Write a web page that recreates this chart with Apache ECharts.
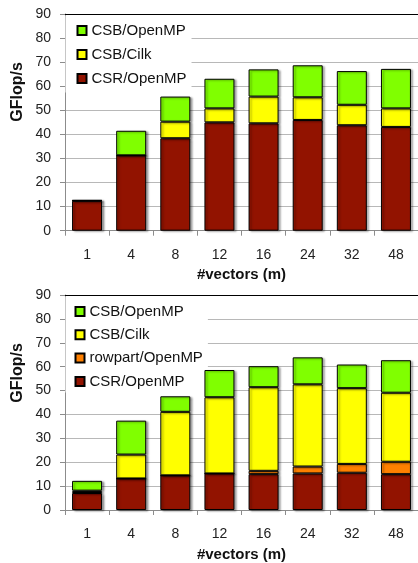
<!DOCTYPE html>
<html><head><meta charset="utf-8">
<script src="https://cdn.jsdelivr.net/npm/echarts@6/dist/echarts.min.js"></script>
<style>html,body{margin:0;padding:0;background:#fff}#c{width:418px;height:563px}</style>
</head><body><div id="c"></div>
<script>
const categories = ['1','4','8','12','16','24','32','48'];
const yTicks = [0,10,20,30,40,50,60,70,80,90];
// top chart: performance level of each method (GFlop/s)
const topCSR_OpenMP = [12.4, 31.3, 38.4, 45.0, 44.6, 46.0, 43.8, 43.1];
const topCSB_Cilk   = [12.5, 31.3, 45.3, 50.8, 55.7, 55.4, 52.3, 50.8];
const topCSB_OpenMP = [12.7, 41.5, 55.7, 63.1, 67.0, 68.7, 66.3, 67.2];
// bottom chart
const botCSR_OpenMP     = [7.1, 13.2, 14.5, 15.3, 15.0, 15.3, 15.6, 15.0];
const botRowpart_OpenMP = [7.6, 13.2, 14.5, 15.3, 16.4, 18.2, 19.3, 20.2];
const botCSB_Cilk       = [8.1, 23.2, 41.1, 47.2, 51.4, 52.6, 51.0, 49.1];
const botCSB_OpenMP     = [12.2, 37.4, 47.6, 58.6, 60.2, 63.9, 60.9, 62.7];

const colors = {csr:'#921300', row:'#FF8000', cilk:'#FFFF00', omp:'#80FF00'};
const diff = (a,b)=>a.map((v,i)=>+(v-(b?b[i]:0)).toFixed(2));

const font = 'Liberation Sans, Arial, sans-serif';
const grids = [
  {left:65, top:14, width:354, height:216.7},
  {left:65, top:295, width:354, height:215.7}
];
function xAx(i){
  return [{
    type:'category', gridIndex:i, data:categories,
    axisLine:{lineStyle:{color:'#8c8c8c'}},
    axisTick:{show:true, alignWithLabel:false, length:5, lineStyle:{color:'#8c8c8c'}},
    axisLabel:{color:'#222', fontSize:14, fontFamily:font, margin:17},
    name:'#vectors (m)', nameLocation:'middle', nameGap:37,
    nameTextStyle:{color:'#111', fontSize:15, fontWeight:'bold', fontFamily:font}
  },{
    type:'category', gridIndex:i, data:categories, position:'top',
    axisLine:{show:true, lineStyle:{color:'#000', width:1}},
    axisTick:{show:false}, axisLabel:{show:false}
  }];
}
function yAx(i){
  return {
    type:'value', gridIndex:i, min:0, max:90, interval:10,
    axisLine:{show:true, lineStyle:{color:'#8c8c8c'}},
    axisTick:{show:true, length:5, lineStyle:{color:'#8c8c8c'}},
    axisLabel:{color:'#222', fontSize:14, fontFamily:font, margin:14},
    splitLine:{lineStyle:{color:'#b8b8b8', width:1}}
  };
}
function ser(name, data, color, gi, stack){
  return {
    type:'bar', barWidth:30, z:3,
    name, data, xAxisIndex:gi*2, yAxisIndex:gi, stack:stack,
    itemStyle:{color, borderColor:'#000', borderWidth:1, shadowColor:'rgba(0,0,0,0.35)', shadowOffsetX:2, shadowOffsetY:1, shadowBlur:2}
  };
}
const series = [
  ser('CSR/OpenMP', diff(topCSR_OpenMP), colors.csr, 0, 'a'),
  ser('CSB/Cilk', diff(topCSB_Cilk, topCSR_OpenMP), colors.cilk, 0, 'a'),
  ser('CSB/OpenMP', diff(topCSB_OpenMP, topCSB_Cilk), colors.omp, 0, 'a'),
  ser('CSR/OpenMP ', diff(botCSR_OpenMP), colors.csr, 1, 'b'),
  ser('rowpart/OpenMP', diff(botRowpart_OpenMP, botCSR_OpenMP), colors.row, 1, 'b'),
  ser('CSB/Cilk ', diff(botCSB_Cilk, botRowpart_OpenMP), colors.cilk, 1, 'b'),
  ser('CSB/OpenMP ', diff(botCSB_OpenMP, botCSB_Cilk), colors.omp, 1, 'b')
];
const legendText = {color:'#111', fontSize:15, fontFamily:font, lineHeight:16};
const legendFmt = n=>n.trim();
const option = {
  animation:false,
  backgroundColor:'#fff',
  grid:grids,
  xAxis:[...xAx(0), ...xAx(1)],
  yAxis:[yAx(0), yAx(1)],
  legend:[
    {orient:'vertical', left:65.5, top:15.5, z:1, padding:[7,5,6,11], itemGap:8, itemWidth:9, itemHeight:9,
     backgroundColor:'#fff', icon:'rect', data:['CSB/OpenMP','CSB/Cilk','CSR/OpenMP'], textStyle:legendText, formatter:legendFmt, selectedMode:false},
    {orient:'vertical', left:65.5, top:296.5, z:1, padding:[7,5,3,9], itemGap:7.3, itemWidth:9, itemHeight:9,
     backgroundColor:'#fff', icon:'rect', data:['CSB/OpenMP ','CSB/Cilk ','rowpart/OpenMP','CSR/OpenMP '], textStyle:legendText, formatter:legendFmt, selectedMode:false}
  ],
  graphic:[
    {type:'text', x:18, y:92, rotation:Math.PI/2, style:{text:'GFlop/s', fill:'#111', font:'bold 16px '+font, textAlign:'center', textVerticalAlign:'middle'}},
    {type:'text', x:18, y:373, rotation:Math.PI/2, style:{text:'GFlop/s', fill:'#111', font:'bold 16px '+font, textAlign:'center', textVerticalAlign:'middle'}}
  ],
  series
};
const chart = echarts.init(document.getElementById('c'), null, {renderer:'canvas'});
chart.setOption(option);
</script></body></html>
